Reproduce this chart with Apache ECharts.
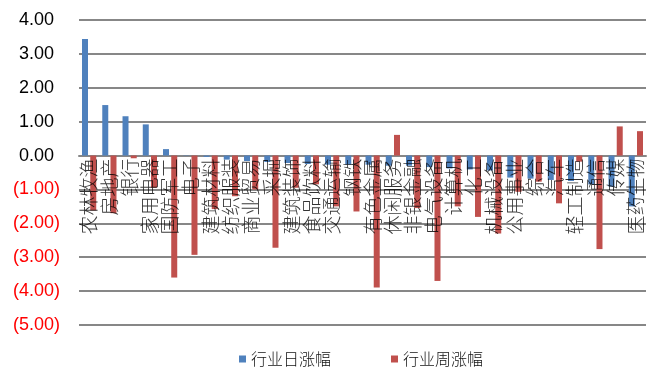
<!DOCTYPE html>
<html>
<head>
<meta charset="utf-8">
<script src="https://cdn.jsdelivr.net/npm/echarts@6/dist/echarts.min.js"></script>
<style>html,body{margin:0;padding:0;background:#fff}#c{width:665px;height:388px}</style>
</head>
<body>
<div id="c"></div>
<script>
const categories = ['农林牧渔','房地产','银行','家用电器','国防军工','电子','建筑材料','纺织服装','商业贸易','采掘','建筑装饰','食品饮料','交通运输','钢铁','有色金属','休闲服务','非银金融','电气设备','计算机','化工','机械设备','公用事业','综合','汽车','轻工制造','通信','传媒','医药生物'];
const dailyName = '行业日涨幅';
const weeklyName = '行业周涨幅';
const dailyValues = [3.44,1.49,1.16,0.92,0.19,-0.01,-0.04,-0.12,-0.16,-0.19,-0.22,-0.25,-0.27,-0.27,-0.27,-0.30,-0.30,-0.34,-0.38,-0.41,-0.44,-0.65,-0.68,-0.72,-0.75,-0.85,-0.92,-1.50];
const weeklyValues = [-1.62,-1.70,-0.08,-0.95,-3.60,-2.93,-1.58,-1.20,-1.00,-2.72,-0.95,-0.85,-1.50,-1.65,-3.89,0.61,-1.55,-3.70,-1.50,-1.81,-2.30,-1.07,-0.77,-1.41,-0.18,-2.76,0.86,0.72];
const yMin = -5, yMax = 4, yStep = 1;

const chart = echarts.init(document.getElementById('c'), null, {renderer:'canvas'});
const gridColor = '#878787';
chart.setOption({
  animation: false,
  backgroundColor: '#fff',
  grid: {left: 79, right: 19, top: 20, bottom: 63, containLabel: false, outerBoundsMode: 'none'},
  legend: {
    left: 234, top: 346,
    icon: 'rect', itemWidth: 7, itemHeight: 7, itemGap: 60,
    textStyle: {fontSize: 16, color: '#111', fontFamily: 'Noto Sans CJK SC', fontWeight: 300},
    data: [dailyName, weeklyName]
  },
  xAxis: {
    type: 'category',
    data: categories,
    axisLine: {onZero: true, lineStyle: {color: gridColor, width: 2}},
    axisTick: {show: false},
    axisLabel: {show: false}
  },
  yAxis: {
    type: 'value',
    min: yMin, max: yMax, interval: yStep,
    axisLine: {show: false},
    axisTick: {show: false},
    splitLine: {lineStyle: {color: gridColor, width: 2}},
    axisLabel: {
      margin: 19,
      fontSize: 18,
      fontFamily: 'Liberation Sans',
      formatter: function (v) {
        return v < 0 ? '{n|(' + Math.abs(v).toFixed(2) + ')}' : '{p|' + v.toFixed(2) + '}';
      },
      rich: {
        n: {color: '#ff0000', fontSize: 18, fontFamily: 'Liberation Sans'},
        p: {color: '#000', fontSize: 18, fontFamily: 'Liberation Sans', padding: [0, 6, 0, 0]}
      }
    }
  },
  series: [
    {name: dailyName, type: 'bar', data: dailyValues, barWidth: 6, barGap: '37%', itemStyle: {color: '#4F81BD'}},
    {name: weeklyName, type: 'bar', data: weeklyValues, barWidth: 6, itemStyle: {color: '#C0504D'}},
    {
      name: 'labels', type: 'scatter', silent: true, symbolSize: 0, z: 5,
      data: categories.map(function (c) { return {name: c, value: [c, 0]}; }),
      label: {
        show: true, position: 'bottom', distance: 3, rotate: 90,
        align: 'right', verticalAlign: 'middle',
        formatter: function (p) { return p.name; },
        fontSize: 19, color: '#000', fontFamily: 'Noto Sans CJK SC', fontWeight: 300
      }
    }
  ]
});
</script>
</body>
</html>
